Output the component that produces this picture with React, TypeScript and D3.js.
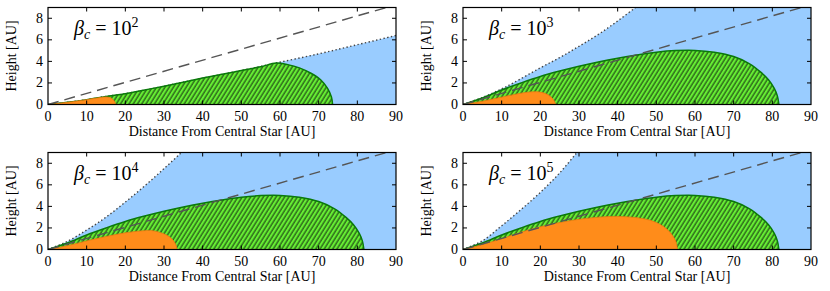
import React, { useEffect, useRef } from "react";
import * as d3 from "d3";

type Pt = [number, number];

const xTicks = [0, 10, 20, 30, 40, 50, 60, 70, 80, 90];
const yTicks = [0, 2, 4, 6, 8];
const betaExponents = ["2", "3", "4", "5"];

// dashed reference line (same in every panel)
const refLine: Pt[] = [[0, 0], [90, 9.25]];

// wind boundary (dotted line, blue below)
const wind2: Pt[] = [[0, 0], [5, 0.2], [10, 0.45], [15, 0.75], [20, 1.0], [30, 1.7], [40, 2.45], [50, 3.15], [59, 3.85], [70, 4.7], [80, 5.55], [90, 6.4]];
const wind3: Pt[] = [[0, 0], [5, 0.65], [10, 1.45], [13, 2.0], [20, 3.4], [25, 4.35], [30, 5.4], [35, 6.5], [40, 7.75], [45, 9.1], [48, 9.9]];
const wind4: Pt[] = [[0, 0], [5, 0.75], [10, 1.8], [15, 3.0], [20, 4.4], [25, 5.9], [30, 7.5], [34.5, 9.0], [37, 9.9]];
const wind5: Pt[] = [[0, 0], [5, 0.8], [10, 2.2], [15, 3.7], [20, 5.3], [25, 7.1], [29.5, 9.0], [32, 10]];

// hatched green region
const disk2: Pt[] = [[0, 0], [5, 0.2], [10, 0.45], [15, 0.75], [20, 1.0], [25, 1.35], [30, 1.7], [35, 2.07], [40, 2.45], [45, 2.8], [50, 3.15], [55, 3.5], [59, 3.85], [62, 3.7], [65, 3.4], [68, 2.9], [70.5, 2.3], [72.3, 1.5], [73.3, 0.7], [73.6, 0]];
const diskOuter: Pt[] = [[0, 0], [5, 0.6], [10, 1.35], [15, 2.0], [20, 2.6], [25, 3.1], [30, 3.55], [35, 3.95], [40, 4.3], [45, 4.6], [50, 4.85], [55, 5.0], [60, 5.02], [65, 4.85], [70, 4.45], [74, 3.8], [77, 3.0], [79, 2.3], [80.5, 1.5], [81.3, 0.8], [81.7, 0]];

// orange region
const core2: Pt[] = [[0, 0], [5, 0.2], [10, 0.45], [13, 0.62], [15, 0.7], [16.3, 0.6], [17.2, 0.3], [17.5, 0]];
const core3: Pt[] = [[0, 0], [5, 0.3], [10, 0.68], [15, 1.05], [18, 1.18], [20, 1.15], [22, 0.9], [23.4, 0.45], [24, 0]];
const core4: Pt[] = [[0, 0], [5, 0.35], [10, 0.8], [15, 1.2], [20, 1.55], [25, 1.75], [27, 1.75], [30, 1.45], [32, 1.0], [33, 0.5], [33.4, 0]];
const core5: Pt[] = [[0, 0], [5, 0.45], [10, 1.0], [15, 1.6], [20, 2.1], [25, 2.5], [30, 2.8], [35, 3.0], [40, 3.07], [45, 2.95], [48, 2.75], [50, 2.5], [52, 2.1], [54, 1.4], [55, 0.8], [55.5, 0]];

const panelW = 348;
const panelH = 97;

const panels = [
    { exp: betaExponents[0], wind: wind2, disk: disk2, core: core2, left: 48, top: 7.5 },
    { exp: betaExponents[1], wind: wind3, disk: diskOuter, core: core3, left: 463, top: 7.5 },
    { exp: betaExponents[2], wind: wind4, disk: diskOuter, core: core4, left: 48, top: 152.5 },
    { exp: betaExponents[3], wind: wind5, disk: diskOuter, core: core5, left: 463, top: 152.5 },
];

const font = "Liberation Serif, Times New Roman, Times, serif";

export default function App() {
    const ref = useRef<SVGSVGElement>(null);

    useEffect(() => {
        const svg = d3.select(ref.current);
        svg.selectAll("*").remove();

        const defs = svg.append("defs");
        const pat = defs.append("pattern")
            .attr("id", "hatch")
            .attr("patternUnits", "userSpaceOnUse")
            .attr("width", 3.6)
            .attr("height", 8)
            .attr("patternTransform", "rotate(32)");
        pat.append("rect").attr("width", 3.6).attr("height", 8).attr("fill", "#66ee33");
        pat.append("line")
            .attr("x1", 1).attr("x2", 1).attr("y1", 0).attr("y2", 8)
            .attr("stroke", "#1b3d14").attr("stroke-width", 1.1);

        const x = d3.scaleLinear().domain([0, 90]).range([0, panelW]);
        const y = d3.scaleLinear().domain([0, 9]).range([panelH, 0]);

        const curve = d3.curveCatmullRom.alpha(0.5);
        const area = d3.area<Pt>().x(d => x(d[0])).y0(y(0)).y1(d => y(d[1])).curve(curve);
        const line = d3.line<Pt>().x(d => x(d[0])).y(d => y(d[1])).curve(curve);

        panels.forEach((p, i) => {
            const g = svg.append("g")
                .attr("transform", `translate(${p.left},${p.top})`)
                .style("font-family", font);
            defs.append("clipPath").attr("id", `clip${i}`)
                .append("rect").attr("width", panelW).attr("height", panelH);
            const plot = g.append("g").attr("clip-path", `url(#clip${i})`);

            // blue region under wind boundary, continued to the right edge
            const last = p.wind[p.wind.length - 1];
            plot.append("path")
                .attr("d", line(p.wind) + `L${x(90)},${y(last[1])}L${x(90)},${y(0)}Z`)
                .attr("fill", "#99ccff");
            plot.append("path")
                .attr("d", line(p.wind))
                .attr("fill", "none")
                .attr("stroke", "#444")
                .attr("stroke-width", 1.4)
                .attr("stroke-dasharray", "1.4,2.4");

            plot.append("path").attr("d", area(p.disk)).attr("fill", "url(#hatch)");
            plot.append("path").attr("d", line(p.disk))
                .attr("fill", "none").attr("stroke", "#0a7a0a").attr("stroke-width", 1.5);

            plot.append("path").attr("d", area(p.core)).attr("fill", "#ff8c1a");
            plot.append("path").attr("d", line(p.core))
                .attr("fill", "none").attr("stroke", "#e87a10").attr("stroke-width", 0.8);

            plot.append("path")
                .attr("d", d3.line<Pt>().x(d => x(d[0])).y(d => y(d[1]))(refLine))
                .attr("fill", "none")
                .attr("stroke", "#555")
                .attr("stroke-width", 1.4)
                .attr("stroke-dasharray", "11,6");

            // frame
            g.append("rect")
                .attr("width", panelW).attr("height", panelH)
                .attr("fill", "none").attr("stroke", "#000").attr("stroke-width", 1.2);

            // inward ticks on all sides
            xTicks.slice(1, -1).forEach(t => {
                g.append("line").attr("x1", x(t)).attr("x2", x(t)).attr("y1", panelH).attr("y2", panelH - 4)
                    .attr("stroke", "#000").attr("stroke-width", 1);
                g.append("line").attr("x1", x(t)).attr("x2", x(t)).attr("y1", 0).attr("y2", 4)
                    .attr("stroke", "#000").attr("stroke-width", 1);
            });
            yTicks.slice(1).forEach(t => {
                g.append("line").attr("x1", 0).attr("x2", 4).attr("y1", y(t)).attr("y2", y(t))
                    .attr("stroke", "#000").attr("stroke-width", 1);
                g.append("line").attr("x1", panelW).attr("x2", panelW - 4).attr("y1", y(t)).attr("y2", y(t))
                    .attr("stroke", "#000").attr("stroke-width", 1);
            });

            g.selectAll(".xl").data(xTicks).enter().append("text")
                .attr("x", d => x(d)).attr("y", panelH + 16)
                .attr("text-anchor", "middle")
                .attr("font-size", 14)
                .text(d => String(d));
            g.selectAll(".yl").data(yTicks).enter().append("text")
                .attr("x", -5).attr("y", d => y(d) + 4.5)
                .attr("text-anchor", "end")
                .attr("font-size", 14)
                .text(d => String(d));

            g.append("text")
                .attr("x", panelW / 2).attr("y", panelH + 31)
                .attr("text-anchor", "middle")
                .attr("font-size", 14)
                .text("Distance From Central Star [AU]");
            g.append("text")
                .attr("transform", `translate(-32,${panelH / 2}) rotate(-90)`)
                .attr("text-anchor", "middle")
                .attr("font-size", 14)
                .text("Height [AU]");

            const lab = g.append("text")
                .attr("x", 26).attr("y", 27)
                .attr("font-size", 20);
            lab.append("tspan").attr("font-style", "italic").text("β");
            lab.append("tspan").attr("font-style", "italic").attr("font-size", 14).attr("dy", 4).text("c");
            lab.append("tspan").attr("dy", -4).text(" = 10");
            lab.append("tspan").attr("font-size", 14).attr("dy", -8).text(p.exp);
        });
    }, []);

    return (
        <svg
            ref={ref}
            width={830}
            height={291}
            style={{ position: "absolute", left: 0, top: 0, background: "white" }}
        />
    );
}
